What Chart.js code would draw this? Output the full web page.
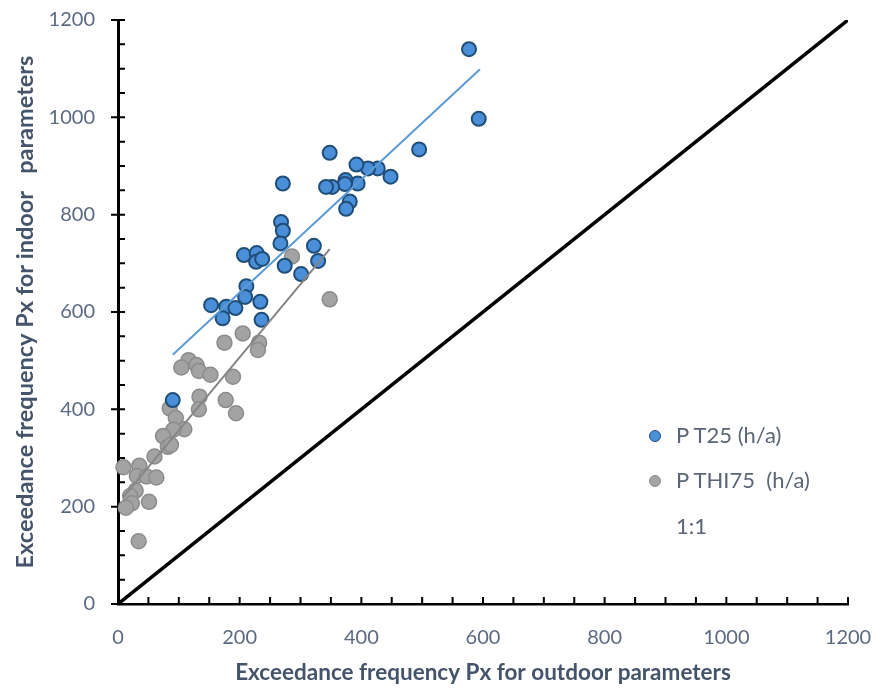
<!DOCTYPE html>
<html>
<head>
<meta charset="utf-8">
<script src="https://cdn.jsdelivr.net/npm/chart.js@4"></script>
<style>
  html, body { margin: 0; padding: 0; background: #fff; }
  #wrap { position: relative; width: 878px; height: 689px; }
  #legend { position: absolute; left: 0; top: 0; font-family: Lato, sans-serif; font-size: 22px; color: #5a6577; }
  .item { position: absolute; white-space: pre; line-height: 26px; }
  .dot { position: absolute; width: 10px; height: 10px; border-radius: 50%; }
</style>
</head>
<body>
<div id="wrap">
  <canvas id="chart" width="878" height="689"></canvas>
  <div id="legend"></div>
</div>
<script>
// P T25 (h/a): outdoor vs indoor exceedance frequency
const t25X = [577, 593, 495, 448, 427, 411, 392, 394, 374, 373, 381, 375, 348, 352, 342, 271, 268, 271,
  267, 207, 228, 227, 237, 274, 322, 329, 301, 211, 209, 234, 236, 153, 178, 193, 172, 90];
const t25Y = [1140, 997, 934, 878, 895, 895, 903, 864, 871, 863, 827, 812, 927, 857, 857, 864, 785, 767,
  741, 717, 721, 703, 709, 695, 736, 705, 678, 653, 631, 621, 584, 614, 611, 608, 587, 419];

// P THI75 (h/a)
const thiX = [286, 348, 205, 175, 232, 230, 116, 104, 129, 133, 152, 189, 134, 133, 177, 194, 85, 95,
  109, 91, 74, 82, 87, 60, 35, 9, 31, 47, 63, 29, 20, 23, 13, 51, 34];
const thiY = [714, 626, 556, 537, 537, 522, 501, 486, 491, 479, 471, 467, 426, 400, 419, 392, 402, 382,
  359, 358, 345, 323, 327, 303, 284, 281, 263, 262, 260, 233, 222, 207, 198, 210, 129];

// trend line end points
const t25TrendX = [90, 595];
const t25TrendY = [512, 1099];
const thiTrendX = [9, 348];
const thiTrendY = [220, 729];

// 1:1 reference line
const oneX = [0, 1200];
const oneY = [0, 1200];

const axisMin = 0;
const axisMax = 1200;
const majorStep = 200;
const minorStep = 50;

const legendNames = ['P T25 (h/a)', 'P THI75  (h/a)', '1:1'];

const tickColor = '#5b6a80';
const titleColor = '#44546a';
const fontFamily = 'Lato, sans-serif';

function toPoints(xs, ys) {
  return xs.map((x, i) => ({ x: x, y: ys[i] }));
}

// ticks: x axis all pointing up, y axis majors cross, minors inside
const tickMarks = {
  id: 'tickMarks',
  beforeDatasetsDraw(chart) {
    const ctx = chart.ctx;
    const x = chart.scales.x;
    const y = chart.scales.y;
    ctx.save();
    ctx.strokeStyle = '#000';
    ctx.lineWidth = 2;
    ctx.beginPath();
    for (let v = axisMin; v <= axisMax; v += minorStep) {
      const px = x.getPixelForValue(v);
      ctx.moveTo(px, x.top);
      ctx.lineTo(px, x.top - 7);
      const py = y.getPixelForValue(v);
      const major = v % majorStep === 0;
      ctx.moveTo(y.right - (major ? 7 : 0), py);
      ctx.lineTo(y.right + 7, py);
    }
    ctx.stroke();
    ctx.restore();
  }
};

function noPad(scale) {
  scale.paddingTop = 0;
  scale.paddingBottom = 0;
  scale.paddingLeft = 0;
  scale.paddingRight = 0;
}

const chart = new Chart(document.getElementById('chart'), {
  type: 'scatter',
  data: {
    datasets: [
      {
        label: 'trend T25',
        data: toPoints(t25TrendX, t25TrendY),
        showLine: true,
        borderColor: '#5b9bd5',
        borderWidth: 2,
        pointRadius: 0
      },
      {
        label: 'trend THI75',
        data: toPoints(thiTrendX, thiTrendY),
        showLine: true,
        borderColor: '#858585',
        borderWidth: 2,
        pointRadius: 0
      },
      {
        label: legendNames[2],
        data: toPoints(oneX, oneY),
        showLine: true,
        borderColor: '#000',
        borderWidth: 3.5,
        pointRadius: 0
      },
      {
        label: legendNames[0],
        data: toPoints(t25X, t25Y),
        backgroundColor: '#4a8fd8',
        borderColor: '#1f4e79',
        borderWidth: 2,
        pointRadius: 7,
        clip: false
      },
      {
        label: legendNames[1],
        data: toPoints(thiX, thiY),
        backgroundColor: '#a3a3a3',
        borderColor: '#8c8c8c',
        borderWidth: 1.5,
        pointRadius: 7.5,
        clip: false
      }
    ]
  },
  options: {
    responsive: false,
    animation: false,
    layout: { padding: { top: 20, right: 30, left: 0, bottom: 0 } },
    plugins: {
      legend: { display: false },
      tooltip: { enabled: false }
    },
    scales: {
      x: {
        type: 'linear',
        min: axisMin,
        max: axisMax,
        ticks: {
          stepSize: majorStep, padding: 22, color: tickColor,
          font: { family: fontFamily, size: 20 },
          callback: v => String(v)
        },
        grid: { display: false, drawTicks: false },
        border: { color: '#000', width: 2.5 },
        title: {
          display: true,
          text: 'Exceedance frequency Px for outdoor parameters',
          color: titleColor,
          font: { family: fontFamily, size: 22.5, weight: 'bold' },
          padding: { top: 0, bottom: 3 }
        },
        afterFit(scale) { scale.height = 85; noPad(scale); }
      },
      y: {
        type: 'linear',
        min: axisMin,
        max: axisMax,
        ticks: {
          stepSize: majorStep, padding: 23, color: tickColor,
          font: { family: fontFamily, size: 20 },
          callback: v => String(v)
        },
        grid: { display: false, drawTicks: false },
        border: { color: '#000', width: 3 },
        title: {
          display: true,
          text: 'Exceedance frequency Px for indoor   parameters',
          color: titleColor,
          font: { family: fontFamily, size: 23.5, weight: 'bold' },
          padding: { top: 11, bottom: 0 }
        },
        afterFit(scale) { scale.width = 118; noPad(scale); }
      }
    }
  },
  plugins: [tickMarks]
});

// legend, placed in the lower right of the plot
const legend = document.getElementById('legend');
const legendRows = [
  { name: legendNames[0], fill: '#4a8fd8', edge: '#1f4e79', top: 436 },
  { name: legendNames[1], fill: '#a3a3a3', edge: '#8c8c8c', top: 481 },
  { name: legendNames[2], fill: null, edge: null, top: 527 }
];
legendRows.forEach(r => {
  if (r.fill) {
    const d = document.createElement('div');
    d.className = 'dot';
    d.style.left = '649px';
    d.style.top = (r.top - 6) + 'px';
    d.style.background = r.fill;
    d.style.border = '1.5px solid ' + r.edge;
    legend.appendChild(d);
  }
  const t = document.createElement('div');
  t.className = 'item';
  t.style.left = '676px';
  t.style.top = (r.top - 14) + 'px';
  t.textContent = r.name;
  legend.appendChild(t);
});
</script>
</body>
</html>
